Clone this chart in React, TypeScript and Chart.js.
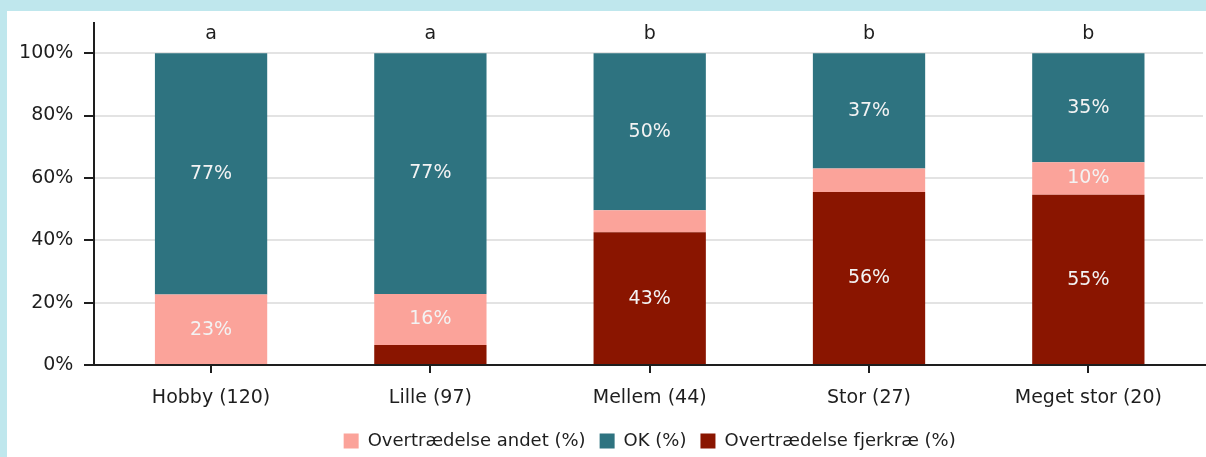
import { useEffect, useRef } from "react";
import { Chart, registerables } from "chart.js";

Chart.register(...registerables);

const categories = ["Hobby (120)", "Lille (97)", "Mellem (44)", "Stor (27)", "Meget stor (20)"];
const fjerkrae = [0, 6.4, 42.6, 55.5, 54.6];
const andet = [22.6, 16.4, 7.0, 7.5, 10.4];
const ok = [77.4, 77.2, 50.4, 37.0, 35.0];
const groupLetters = ["a", "a", "b", "b", "b"];
const yTicks = [0, 20, 40, 60, 80, 100];
const legendOrder = ["Overtrædelse andet (%)", "OK (%)", "Overtrædelse fjerkræ (%)"];

const FONT = "DejaVu Sans";
const TEXT = "#1e1e1e";

const decorPlugin = {
  id: "decor",
  beforeDatasetsDraw(chart: any) {
    const { ctx, chartArea, scales } = chart;
    const y = scales.y;
    const axisX = Math.round(chartArea.left - 7);
    ctx.save();
    ctx.strokeStyle = "#e3e3e3";
    ctx.lineWidth = 2;
    yTicks.forEach((v) => {
      if (v === 0) return;
      const py = Math.round(y.getPixelForValue(v));
      ctx.beginPath();
      ctx.moveTo(axisX, py);
      ctx.lineTo(chart.width - 3, py);
      ctx.stroke();
    });
    ctx.restore();
  },
  afterDatasetsDraw(chart: any) {
    const { ctx, chartArea, scales } = chart;
    const x = scales.x;
    const y = scales.y;
    const axisX = Math.round(chartArea.left - 7);
    const baseY = Math.round(y.getPixelForValue(0));
    ctx.save();
    ctx.font = `19px "${FONT}"`;
    ctx.textAlign = "center";
    ctx.textBaseline = "middle";
    chart.data.datasets.forEach((ds: any, di: number) => {
      const meta = chart.getDatasetMeta(di);
      meta.data.forEach((bar: any, i: number) => {
        const v = ds.data[i];
        if (v < 9.5) return;
        ctx.fillStyle = "#f3f3f3";
        ctx.fillText(`${Math.round(v)}%`, bar.x, (bar.y + bar.base) / 2);
      });
    });
    ctx.strokeStyle = TEXT;
    ctx.lineWidth = 2;
    ctx.beginPath();
    ctx.moveTo(axisX, chartArea.top);
    ctx.lineTo(axisX, baseY + 1);
    ctx.moveTo(axisX - 1, baseY);
    ctx.lineTo(chart.width, baseY);
    ctx.stroke();
    ctx.beginPath();
    yTicks.forEach((v) => {
      const py = Math.round(y.getPixelForValue(v));
      ctx.moveTo(axisX - 10, py);
      ctx.lineTo(axisX, py);
    });
    categories.forEach((_, i) => {
      const px = Math.round(x.getPixelForValue(i));
      ctx.moveTo(px, baseY);
      ctx.lineTo(px, baseY + 8);
    });
    ctx.stroke();
    ctx.fillStyle = TEXT;
    ctx.font = `19px "${FONT}"`;
    groupLetters.forEach((l, i) => {
      ctx.fillText(l, x.getPixelForValue(i), y.getPixelForValue(106));
    });
    ctx.restore();
  },
};

export default function App() {
  const ref = useRef<HTMLCanvasElement | null>(null);
  useEffect(() => {
    if (!ref.current) return;
    const chart = new Chart(ref.current, {
      type: "bar",
      data: {
        labels: categories,
        datasets: [
          { label: "Overtrædelse fjerkræ (%)", data: fjerkrae, backgroundColor: "#8a1500", borderWidth: 0 },
          { label: "Overtrædelse andet (%)", data: andet, backgroundColor: "#fba39a", borderWidth: 0 },
          { label: "OK (%)", data: ok, backgroundColor: "#2e7380", borderWidth: 0 },
        ],
      },
      options: {
        responsive: false,
        animation: false,
        layout: { padding: { left: 0, right: 8, top: 11, bottom: 0 } },
        datasets: { bar: { categoryPercentage: 1, barPercentage: 0.512 } },
        scales: {
          x: {
            stacked: true,
            grid: { display: false, drawTicks: false },
            border: { display: false },
            ticks: { padding: 22, color: TEXT, font: { family: FONT, size: 19 } },
            afterFit: (s: any) => {
              s.height = 53;
              s.paddingLeft = 0;
              s.paddingRight = 0;
            },
          },
          y: {
            stacked: true,
            min: 0,
            max: 110,
            grid: { display: false, drawTicks: false },
            border: { display: false },
            afterBuildTicks: (s: any) => {
              s.ticks = yTicks.map((v) => ({ value: v }));
            },
            ticks: {
              padding: 28,
              color: TEXT,
              font: { family: FONT, size: 19 },
              callback: (v: any) => `${v}%`,
            },
            afterFit: (s: any) => {
              s.width = 94.4;
              s.paddingTop = 0;
              s.paddingBottom = 0;
            },
          },
        },
        plugins: {
          tooltip: { enabled: false },
          legend: {
            position: "bottom",
            fullSize: false,
            labels: {
              boxWidth: 15,
              boxHeight: 15,
              padding: 14,
              color: TEXT,
              font: { family: FONT, size: 18 },
              sort: (a: any, b: any) => legendOrder.indexOf(a.text) - legendOrder.indexOf(b.text),
            },
          },
        },
      },
      plugins: [decorPlugin],
    });
    return () => chart.destroy();
  }, []);
  return (
    <div style={{ position: "fixed", left: 0, top: 0, width: 1206, height: 457, background: "#bfe7ed", overflow: "hidden" }}>
      <div style={{ position: "absolute", left: 7, top: 11, width: 1199, height: 446, background: "#ffffff", overflow: "hidden" }}>
        <canvas ref={ref} width={1199} height={449} style={{ display: "block" }} />
      </div>
    </div>
  );
}
